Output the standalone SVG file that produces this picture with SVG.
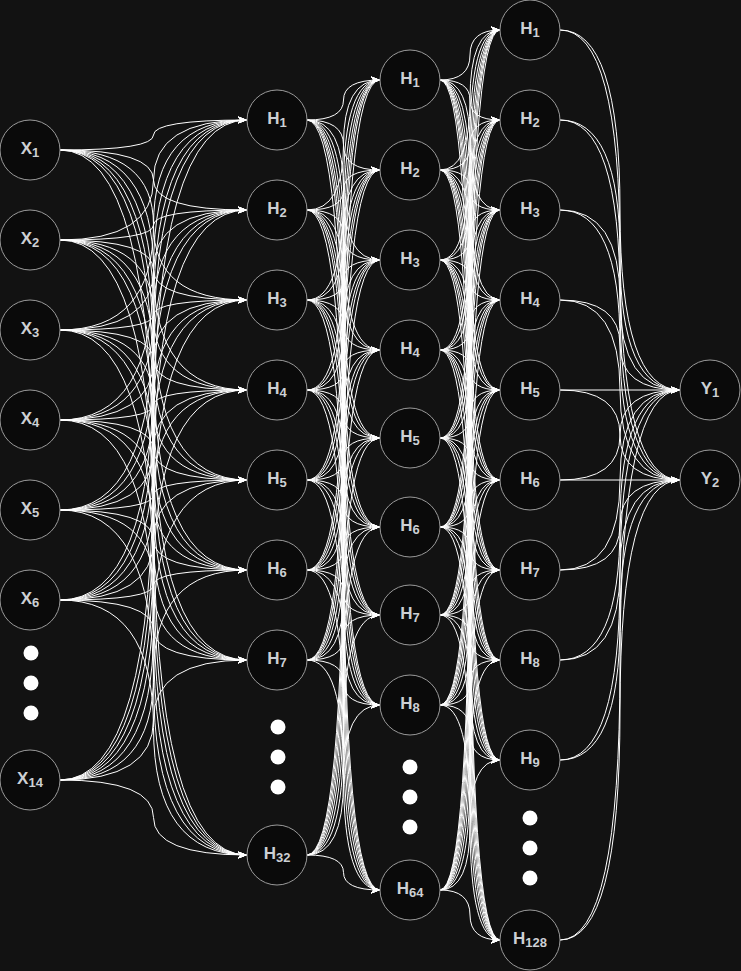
<svg xmlns="http://www.w3.org/2000/svg" width="741" height="971" viewBox="0 0 741 971">
<style>
.e path{fill:none;stroke:#ffffff;stroke-width:1;marker-end:url(#arr)}
.n circle{fill:#0a0a0a;stroke:#9a9a9a;stroke-width:1}
.n text{font-family:"Liberation Sans",Arial,sans-serif;font-weight:bold;font-size:17px;fill:#cdd0d4;text-anchor:middle}
.n tspan{font-size:13px}
.d circle{fill:#ffffff}
</style>
<defs>
<marker id="arr" viewBox="0 0 10 8" refX="10" refY="4" markerWidth="9" markerHeight="7.2" orient="auto" markerUnits="userSpaceOnUse"><path d="M0 0L10 4L0 8L2.5 4Z" fill="#ffffff"/></marker>
</defs>
<rect width="741" height="971" fill="#121212"/>
<g id="edges" class="e">
<path d="M60 150Q153.5 150 153.5 135T247 120"/>
<path d="M60 150Q153.5 150 153.5 180T247 210"/>
<path d="M60 150Q153.5 150 153.5 225T247 300"/>
<path d="M60 150Q153.5 150 153.5 270T247 390"/>
<path d="M60 150Q153.5 150 153.5 315T247 480"/>
<path d="M60 150Q153.5 150 153.5 360T247 570"/>
<path d="M60 150Q153.5 150 153.5 405T247 660"/>
<path d="M60 150Q153.5 150 153.5 502.5T247 855"/>
<path d="M60 240Q153.5 240 153.5 180T247 120"/>
<path d="M60 240Q153.5 240 153.5 225T247 210"/>
<path d="M60 240Q153.5 240 153.5 270T247 300"/>
<path d="M60 240Q153.5 240 153.5 315T247 390"/>
<path d="M60 240Q153.5 240 153.5 360T247 480"/>
<path d="M60 240Q153.5 240 153.5 405T247 570"/>
<path d="M60 240Q153.5 240 153.5 450T247 660"/>
<path d="M60 240Q153.5 240 153.5 547.5T247 855"/>
<path d="M60 330Q153.5 330 153.5 225T247 120"/>
<path d="M60 330Q153.5 330 153.5 270T247 210"/>
<path d="M60 330Q153.5 330 153.5 315T247 300"/>
<path d="M60 330Q153.5 330 153.5 360T247 390"/>
<path d="M60 330Q153.5 330 153.5 405T247 480"/>
<path d="M60 330Q153.5 330 153.5 450T247 570"/>
<path d="M60 330Q153.5 330 153.5 495T247 660"/>
<path d="M60 330Q153.5 330 153.5 592.5T247 855"/>
<path d="M60 420Q153.5 420 153.5 270T247 120"/>
<path d="M60 420Q153.5 420 153.5 315T247 210"/>
<path d="M60 420Q153.5 420 153.5 360T247 300"/>
<path d="M60 420Q153.5 420 153.5 405T247 390"/>
<path d="M60 420Q153.5 420 153.5 450T247 480"/>
<path d="M60 420Q153.5 420 153.5 495T247 570"/>
<path d="M60 420Q153.5 420 153.5 540T247 660"/>
<path d="M60 420Q153.5 420 153.5 637.5T247 855"/>
<path d="M60 510Q153.5 510 153.5 315T247 120"/>
<path d="M60 510Q153.5 510 153.5 360T247 210"/>
<path d="M60 510Q153.5 510 153.5 405T247 300"/>
<path d="M60 510Q153.5 510 153.5 450T247 390"/>
<path d="M60 510Q153.5 510 153.5 495T247 480"/>
<path d="M60 510Q153.5 510 153.5 540T247 570"/>
<path d="M60 510Q153.5 510 153.5 585T247 660"/>
<path d="M60 510Q153.5 510 153.5 682.5T247 855"/>
<path d="M60 600Q153.5 600 153.5 360T247 120"/>
<path d="M60 600Q153.5 600 153.5 405T247 210"/>
<path d="M60 600Q153.5 600 153.5 450T247 300"/>
<path d="M60 600Q153.5 600 153.5 495T247 390"/>
<path d="M60 600Q153.5 600 153.5 540T247 480"/>
<path d="M60 600Q153.5 600 153.5 585T247 570"/>
<path d="M60 600Q153.5 600 153.5 630T247 660"/>
<path d="M60 600Q153.5 600 153.5 727.5T247 855"/>
<path d="M60 780Q153.5 780 153.5 450T247 120"/>
<path d="M60 780Q153.5 780 153.5 495T247 210"/>
<path d="M60 780Q153.5 780 153.5 540T247 300"/>
<path d="M60 780Q153.5 780 153.5 585T247 390"/>
<path d="M60 780Q153.5 780 153.5 630T247 480"/>
<path d="M60 780Q153.5 780 153.5 675T247 570"/>
<path d="M60 780Q153.5 780 153.5 720T247 660"/>
<path d="M60 780Q153.5 780 153.5 817.5T247 855"/>
<path d="M307 120Q343.5 120 343.5 100T380 80"/>
<path d="M307 120Q343.5 120 343.5 145T380 170"/>
<path d="M307 120Q343.5 120 343.5 190T380 260"/>
<path d="M307 120Q343.5 120 343.5 235T380 350"/>
<path d="M307 120Q343.5 120 343.5 279T380 438"/>
<path d="M307 120Q343.5 120 343.5 323.5T380 527"/>
<path d="M307 120Q343.5 120 343.5 367.5T380 615"/>
<path d="M307 120Q343.5 120 343.5 412.5T380 705"/>
<path d="M307 120Q343.5 120 343.5 505T380 890"/>
<path d="M307 210Q343.5 210 343.5 145T380 80"/>
<path d="M307 210Q343.5 210 343.5 190T380 170"/>
<path d="M307 210Q343.5 210 343.5 235T380 260"/>
<path d="M307 210Q343.5 210 343.5 280T380 350"/>
<path d="M307 210Q343.5 210 343.5 324T380 438"/>
<path d="M307 210Q343.5 210 343.5 368.5T380 527"/>
<path d="M307 210Q343.5 210 343.5 412.5T380 615"/>
<path d="M307 210Q343.5 210 343.5 457.5T380 705"/>
<path d="M307 210Q343.5 210 343.5 550T380 890"/>
<path d="M307 300Q343.5 300 343.5 190T380 80"/>
<path d="M307 300Q343.5 300 343.5 235T380 170"/>
<path d="M307 300Q343.5 300 343.5 280T380 260"/>
<path d="M307 300Q343.5 300 343.5 325T380 350"/>
<path d="M307 300Q343.5 300 343.5 369T380 438"/>
<path d="M307 300Q343.5 300 343.5 413.5T380 527"/>
<path d="M307 300Q343.5 300 343.5 457.5T380 615"/>
<path d="M307 300Q343.5 300 343.5 502.5T380 705"/>
<path d="M307 300Q343.5 300 343.5 595T380 890"/>
<path d="M307 390Q343.5 390 343.5 235T380 80"/>
<path d="M307 390Q343.5 390 343.5 280T380 170"/>
<path d="M307 390Q343.5 390 343.5 325T380 260"/>
<path d="M307 390Q343.5 390 343.5 370T380 350"/>
<path d="M307 390Q343.5 390 343.5 414T380 438"/>
<path d="M307 390Q343.5 390 343.5 458.5T380 527"/>
<path d="M307 390Q343.5 390 343.5 502.5T380 615"/>
<path d="M307 390Q343.5 390 343.5 547.5T380 705"/>
<path d="M307 390Q343.5 390 343.5 640T380 890"/>
<path d="M307 480Q343.5 480 343.5 280T380 80"/>
<path d="M307 480Q343.5 480 343.5 325T380 170"/>
<path d="M307 480Q343.5 480 343.5 370T380 260"/>
<path d="M307 480Q343.5 480 343.5 415T380 350"/>
<path d="M307 480Q343.5 480 343.5 459T380 438"/>
<path d="M307 480Q343.5 480 343.5 503.5T380 527"/>
<path d="M307 480Q343.5 480 343.5 547.5T380 615"/>
<path d="M307 480Q343.5 480 343.5 592.5T380 705"/>
<path d="M307 480Q343.5 480 343.5 685T380 890"/>
<path d="M307 570Q343.5 570 343.5 325T380 80"/>
<path d="M307 570Q343.5 570 343.5 370T380 170"/>
<path d="M307 570Q343.5 570 343.5 415T380 260"/>
<path d="M307 570Q343.5 570 343.5 460T380 350"/>
<path d="M307 570Q343.5 570 343.5 504T380 438"/>
<path d="M307 570Q343.5 570 343.5 548.5T380 527"/>
<path d="M307 570Q343.5 570 343.5 592.5T380 615"/>
<path d="M307 570Q343.5 570 343.5 637.5T380 705"/>
<path d="M307 570Q343.5 570 343.5 730T380 890"/>
<path d="M307 660Q343.5 660 343.5 370T380 80"/>
<path d="M307 660Q343.5 660 343.5 415T380 170"/>
<path d="M307 660Q343.5 660 343.5 460T380 260"/>
<path d="M307 660Q343.5 660 343.5 505T380 350"/>
<path d="M307 660Q343.5 660 343.5 549T380 438"/>
<path d="M307 660Q343.5 660 343.5 593.5T380 527"/>
<path d="M307 660Q343.5 660 343.5 637.5T380 615"/>
<path d="M307 660Q343.5 660 343.5 682.5T380 705"/>
<path d="M307 660Q343.5 660 343.5 775T380 890"/>
<path d="M307 855Q343.5 855 343.5 467.5T380 80"/>
<path d="M307 855Q343.5 855 343.5 512.5T380 170"/>
<path d="M307 855Q343.5 855 343.5 557.5T380 260"/>
<path d="M307 855Q343.5 855 343.5 602.5T380 350"/>
<path d="M307 855Q343.5 855 343.5 646.5T380 438"/>
<path d="M307 855Q343.5 855 343.5 691T380 527"/>
<path d="M307 855Q343.5 855 343.5 735T380 615"/>
<path d="M307 855Q343.5 855 343.5 780T380 705"/>
<path d="M307 855Q343.5 855 343.5 872.5T380 890"/>
<path d="M440 80Q470 80 470 55T500 30"/>
<path d="M440 80Q470 80 470 100T500 120"/>
<path d="M440 80Q470 80 470 145T500 210"/>
<path d="M440 80Q470 80 470 190T500 300"/>
<path d="M440 80Q470 80 470 235T500 390"/>
<path d="M440 80Q470 80 470 280T500 480"/>
<path d="M440 80Q470 80 470 325T500 570"/>
<path d="M440 80Q470 80 470 370T500 660"/>
<path d="M440 80Q470 80 470 420T500 760"/>
<path d="M440 80Q470 80 470 510T500 940"/>
<path d="M440 170Q470 170 470 100T500 30"/>
<path d="M440 170Q470 170 470 145T500 120"/>
<path d="M440 170Q470 170 470 190T500 210"/>
<path d="M440 170Q470 170 470 235T500 300"/>
<path d="M440 170Q470 170 470 280T500 390"/>
<path d="M440 170Q470 170 470 325T500 480"/>
<path d="M440 170Q470 170 470 370T500 570"/>
<path d="M440 170Q470 170 470 415T500 660"/>
<path d="M440 170Q470 170 470 465T500 760"/>
<path d="M440 170Q470 170 470 555T500 940"/>
<path d="M440 260Q470 260 470 145T500 30"/>
<path d="M440 260Q470 260 470 190T500 120"/>
<path d="M440 260Q470 260 470 235T500 210"/>
<path d="M440 260Q470 260 470 280T500 300"/>
<path d="M440 260Q470 260 470 325T500 390"/>
<path d="M440 260Q470 260 470 370T500 480"/>
<path d="M440 260Q470 260 470 415T500 570"/>
<path d="M440 260Q470 260 470 460T500 660"/>
<path d="M440 260Q470 260 470 510T500 760"/>
<path d="M440 260Q470 260 470 600T500 940"/>
<path d="M440 350Q470 350 470 190T500 30"/>
<path d="M440 350Q470 350 470 235T500 120"/>
<path d="M440 350Q470 350 470 280T500 210"/>
<path d="M440 350Q470 350 470 325T500 300"/>
<path d="M440 350Q470 350 470 370T500 390"/>
<path d="M440 350Q470 350 470 415T500 480"/>
<path d="M440 350Q470 350 470 460T500 570"/>
<path d="M440 350Q470 350 470 505T500 660"/>
<path d="M440 350Q470 350 470 555T500 760"/>
<path d="M440 350Q470 350 470 645T500 940"/>
<path d="M440 438Q470 438 470 234T500 30"/>
<path d="M440 438Q470 438 470 279T500 120"/>
<path d="M440 438Q470 438 470 324T500 210"/>
<path d="M440 438Q470 438 470 369T500 300"/>
<path d="M440 438Q470 438 470 414T500 390"/>
<path d="M440 438Q470 438 470 459T500 480"/>
<path d="M440 438Q470 438 470 504T500 570"/>
<path d="M440 438Q470 438 470 549T500 660"/>
<path d="M440 438Q470 438 470 599T500 760"/>
<path d="M440 438Q470 438 470 689T500 940"/>
<path d="M440 527Q470 527 470 278.5T500 30"/>
<path d="M440 527Q470 527 470 323.5T500 120"/>
<path d="M440 527Q470 527 470 368.5T500 210"/>
<path d="M440 527Q470 527 470 413.5T500 300"/>
<path d="M440 527Q470 527 470 458.5T500 390"/>
<path d="M440 527Q470 527 470 503.5T500 480"/>
<path d="M440 527Q470 527 470 548.5T500 570"/>
<path d="M440 527Q470 527 470 593.5T500 660"/>
<path d="M440 527Q470 527 470 643.5T500 760"/>
<path d="M440 527Q470 527 470 733.5T500 940"/>
<path d="M440 615Q470 615 470 322.5T500 30"/>
<path d="M440 615Q470 615 470 367.5T500 120"/>
<path d="M440 615Q470 615 470 412.5T500 210"/>
<path d="M440 615Q470 615 470 457.5T500 300"/>
<path d="M440 615Q470 615 470 502.5T500 390"/>
<path d="M440 615Q470 615 470 547.5T500 480"/>
<path d="M440 615Q470 615 470 592.5T500 570"/>
<path d="M440 615Q470 615 470 637.5T500 660"/>
<path d="M440 615Q470 615 470 687.5T500 760"/>
<path d="M440 615Q470 615 470 777.5T500 940"/>
<path d="M440 705Q470 705 470 367.5T500 30"/>
<path d="M440 705Q470 705 470 412.5T500 120"/>
<path d="M440 705Q470 705 470 457.5T500 210"/>
<path d="M440 705Q470 705 470 502.5T500 300"/>
<path d="M440 705Q470 705 470 547.5T500 390"/>
<path d="M440 705Q470 705 470 592.5T500 480"/>
<path d="M440 705Q470 705 470 637.5T500 570"/>
<path d="M440 705Q470 705 470 682.5T500 660"/>
<path d="M440 705Q470 705 470 732.5T500 760"/>
<path d="M440 705Q470 705 470 822.5T500 940"/>
<path d="M440 890Q470 890 470 460T500 30"/>
<path d="M440 890Q470 890 470 505T500 120"/>
<path d="M440 890Q470 890 470 550T500 210"/>
<path d="M440 890Q470 890 470 595T500 300"/>
<path d="M440 890Q470 890 470 640T500 390"/>
<path d="M440 890Q470 890 470 685T500 480"/>
<path d="M440 890Q470 890 470 730T500 570"/>
<path d="M440 890Q470 890 470 775T500 660"/>
<path d="M440 890Q470 890 470 825T500 760"/>
<path d="M440 890Q470 890 470 915T500 940"/>
<path d="M560 30Q620 30 620 210T680 390"/>
<path d="M560 30Q620 30 620 255T680 480"/>
<path d="M560 120Q620 120 620 255T680 390"/>
<path d="M560 120Q620 120 620 300T680 480"/>
<path d="M560 210Q620 210 620 300T680 390"/>
<path d="M560 210Q620 210 620 345T680 480"/>
<path d="M560 300Q620 300 620 345T680 390"/>
<path d="M560 300Q620 300 620 390T680 480"/>
<path d="M560 390H680"/>
<path d="M560 390Q620 390 620 435T680 480"/>
<path d="M560 480Q620 480 620 435T680 390"/>
<path d="M560 480H680"/>
<path d="M560 570Q620 570 620 480T680 390"/>
<path d="M560 570Q620 570 620 525T680 480"/>
<path d="M560 660Q620 660 620 525T680 390"/>
<path d="M560 660Q620 660 620 570T680 480"/>
<path d="M560 760Q620 760 620 575T680 390"/>
<path d="M560 760Q620 760 620 620T680 480"/>
<path d="M560 940Q620 940 620 665T680 390"/>
<path d="M560 940Q620 940 620 710T680 480"/>
</g>
<g id="x1" class="n"><circle cx="30" cy="150" r="30"/><text x="30" y="154">X<tspan dy="3">1</tspan></text></g>
<g id="x2" class="n"><circle cx="30" cy="240" r="30"/><text x="30" y="244">X<tspan dy="3">2</tspan></text></g>
<g id="x3" class="n"><circle cx="30" cy="330" r="30"/><text x="30" y="334">X<tspan dy="3">3</tspan></text></g>
<g id="x4" class="n"><circle cx="30" cy="420" r="30"/><text x="30" y="424">X<tspan dy="3">4</tspan></text></g>
<g id="x5" class="n"><circle cx="30" cy="510" r="30"/><text x="30" y="514">X<tspan dy="3">5</tspan></text></g>
<g id="x6" class="n"><circle cx="30" cy="600" r="30"/><text x="30" y="604">X<tspan dy="3">6</tspan></text></g>
<g id="x14" class="n"><circle cx="30" cy="780" r="30"/><text x="30" y="784">X<tspan dy="3">14</tspan></text></g>
<g id="dots-x" class="d"><circle cx="31" cy="653" r="7.5"/><circle cx="31" cy="683" r="7.5"/><circle cx="31" cy="713" r="7.5"/></g>
<g id="a1" class="n"><circle cx="277" cy="120" r="30"/><text x="277" y="124">H<tspan dy="3">1</tspan></text></g>
<g id="a2" class="n"><circle cx="277" cy="210" r="30"/><text x="277" y="214">H<tspan dy="3">2</tspan></text></g>
<g id="a3" class="n"><circle cx="277" cy="300" r="30"/><text x="277" y="304">H<tspan dy="3">3</tspan></text></g>
<g id="a4" class="n"><circle cx="277" cy="390" r="30"/><text x="277" y="394">H<tspan dy="3">4</tspan></text></g>
<g id="a5" class="n"><circle cx="277" cy="480" r="30"/><text x="277" y="484">H<tspan dy="3">5</tspan></text></g>
<g id="a6" class="n"><circle cx="277" cy="570" r="30"/><text x="277" y="574">H<tspan dy="3">6</tspan></text></g>
<g id="a7" class="n"><circle cx="277" cy="660" r="30"/><text x="277" y="664">H<tspan dy="3">7</tspan></text></g>
<g id="a32" class="n"><circle cx="277" cy="855" r="30"/><text x="277" y="859">H<tspan dy="3">32</tspan></text></g>
<g id="dots-a" class="d"><circle cx="278" cy="727" r="7.5"/><circle cx="278" cy="757" r="7.5"/><circle cx="278" cy="787" r="7.5"/></g>
<g id="b1" class="n"><circle cx="410" cy="80" r="30"/><text x="410" y="84">H<tspan dy="3">1</tspan></text></g>
<g id="b2" class="n"><circle cx="410" cy="170" r="30"/><text x="410" y="174">H<tspan dy="3">2</tspan></text></g>
<g id="b3" class="n"><circle cx="410" cy="260" r="30"/><text x="410" y="264">H<tspan dy="3">3</tspan></text></g>
<g id="b4" class="n"><circle cx="410" cy="350" r="30"/><text x="410" y="354">H<tspan dy="3">4</tspan></text></g>
<g id="b5" class="n"><circle cx="410" cy="438" r="30"/><text x="410" y="442">H<tspan dy="3">5</tspan></text></g>
<g id="b6" class="n"><circle cx="410" cy="527" r="30"/><text x="410" y="531">H<tspan dy="3">6</tspan></text></g>
<g id="b7" class="n"><circle cx="410" cy="615" r="30"/><text x="410" y="619">H<tspan dy="3">7</tspan></text></g>
<g id="b8" class="n"><circle cx="410" cy="705" r="30"/><text x="410" y="709">H<tspan dy="3">8</tspan></text></g>
<g id="b64" class="n"><circle cx="410" cy="890" r="30"/><text x="410" y="894">H<tspan dy="3">64</tspan></text></g>
<g id="dots-b" class="d"><circle cx="410" cy="767" r="7.5"/><circle cx="410" cy="797" r="7.5"/><circle cx="410" cy="827" r="7.5"/></g>
<g id="c1" class="n"><circle cx="530" cy="30" r="30"/><text x="530" y="34">H<tspan dy="3">1</tspan></text></g>
<g id="c2" class="n"><circle cx="530" cy="120" r="30"/><text x="530" y="124">H<tspan dy="3">2</tspan></text></g>
<g id="c3" class="n"><circle cx="530" cy="210" r="30"/><text x="530" y="214">H<tspan dy="3">3</tspan></text></g>
<g id="c4" class="n"><circle cx="530" cy="300" r="30"/><text x="530" y="304">H<tspan dy="3">4</tspan></text></g>
<g id="c5" class="n"><circle cx="530" cy="390" r="30"/><text x="530" y="394">H<tspan dy="3">5</tspan></text></g>
<g id="c6" class="n"><circle cx="530" cy="480" r="30"/><text x="530" y="484">H<tspan dy="3">6</tspan></text></g>
<g id="c7" class="n"><circle cx="530" cy="570" r="30"/><text x="530" y="574">H<tspan dy="3">7</tspan></text></g>
<g id="c8" class="n"><circle cx="530" cy="660" r="30"/><text x="530" y="664">H<tspan dy="3">8</tspan></text></g>
<g id="c9" class="n"><circle cx="530" cy="760" r="30"/><text x="530" y="764">H<tspan dy="3">9</tspan></text></g>
<g id="c128" class="n"><circle cx="530" cy="940" r="30"/><text x="530" y="944">H<tspan dy="3">128</tspan></text></g>
<g id="dots-c" class="d"><circle cx="530" cy="818" r="7.5"/><circle cx="530" cy="848" r="7.5"/><circle cx="530" cy="878" r="7.5"/></g>
<g id="y1" class="n"><circle cx="710" cy="390" r="30"/><text x="710" y="394">Y<tspan dy="3">1</tspan></text></g>
<g id="y2" class="n"><circle cx="710" cy="480" r="30"/><text x="710" y="484">Y<tspan dy="3">2</tspan></text></g>
</svg>
